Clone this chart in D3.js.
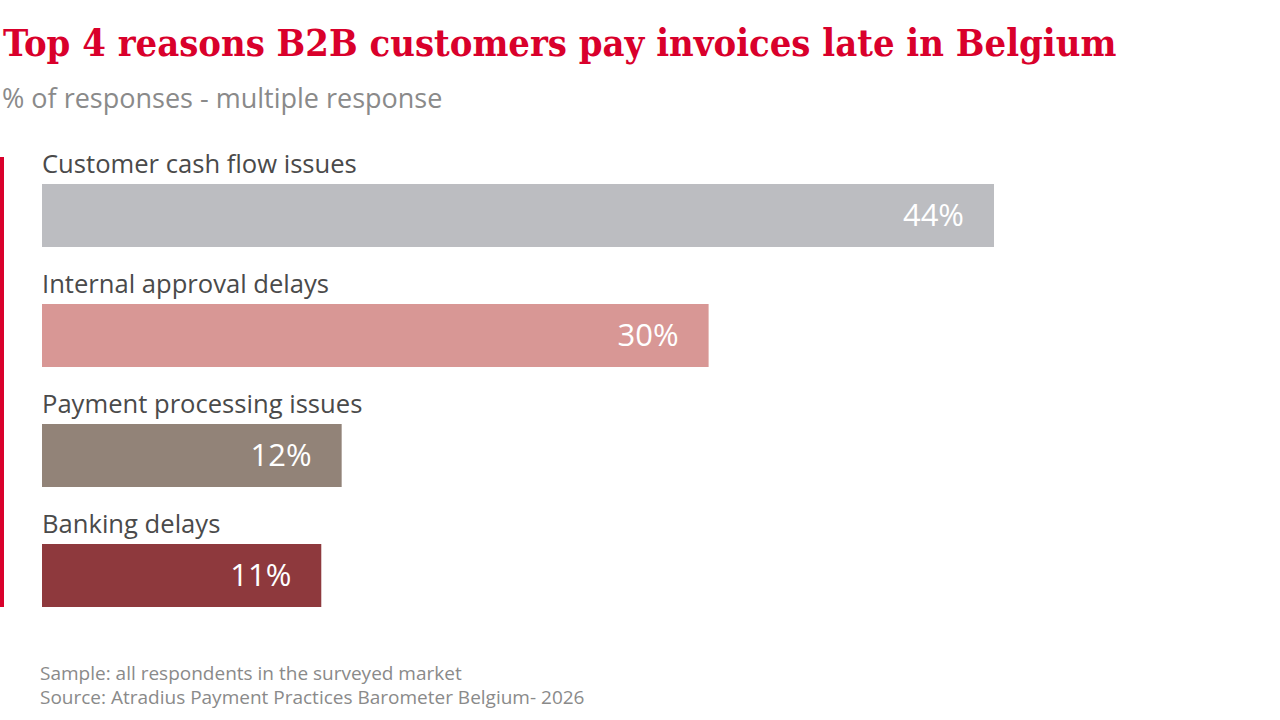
<!DOCTYPE html>
<html>
<head>
<meta charset="utf-8">
<script src="https://cdn.jsdelivr.net/npm/d3@7"></script>
<style>
  body { margin: 0; background: #fff; }
  svg { display: block; }
</style>
</head>
<body>
<div id="chart"></div>
<script>
// data
var reasons = ["Customer cash flow issues", "Internal approval delays", "Payment processing issues", "Banking delays"];
var shares = [44, 30, 12, 11];
var barColors = ["#bcbdc1", "#d89795", "#928378", "#8e393d"];

var width = 1280, height = 720;

var svg = d3.select("#chart")
    .append("svg")
    .attr("width", width)
    .attr("height", height);

// title + subtitle
var title = svg.append("text")
    .attr("x", 3)
    .attr("y", 56)
    .style("font-family", "'DejaVu Serif Condensed', 'DejaVu Serif', serif")
    .style("font-weight", "600")
    .style("font-size", "40px")
    .style("fill", "#d9002b")
    .text("Top 4 reasons B2B customers pay invoices late in Belgium");
// fit the title to the reference width
var tw = title.node().getComputedTextLength();
title.style("font-size", (40 * 1114 / tw) + "px");

svg.append("text")
    .attr("x", 2)
    .attr("y", 108)
    .style("font-family", "'Open Sans', sans-serif")
    .style("font-size", "27px")
    .style("fill", "#8a8a8a")
    .text("% of responses - multiple response");

// scales
var x = d3.scaleLinear()
    .domain([-2.7, 44])
    .range([42, 42 + 952]);

var y = d3.scaleBand()
    .domain(reasons)
    .range([157, 637])
    .paddingInner(0);

var rows = reasons.map((r, i) => ({ label: r, value: shares[i], color: barColors[i] }));

// red accent line
svg.append("rect")
    .attr("x", 0)
    .attr("y", y(reasons[0]))
    .attr("width", 4)
    .attr("height", y(reasons[reasons.length - 1]) + y.bandwidth() - 30 - y(reasons[0]))
    .style("fill", "#d9002b");

var row = svg.selectAll("g.row")
    .data(rows)
    .enter()
    .append("g")
    .attr("class", "row")
    .attr("transform", d => `translate(0, ${y(d.label)})`);

row.append("text")
    .attr("x", 42)
    .attr("y", 16)
    .style("font-family", "'Open Sans', sans-serif")
    .style("font-size", "25.6px")
    .style("fill", "#4a4a4a")
    .text(d => d.label);

row.append("rect")
    .attr("x", x(-2.7))
    .attr("y", 27)
    .attr("width", d => x(d.value) - x(-2.7))
    .attr("height", 63)
    .style("fill", d => d.color);

row.append("text")
    .attr("x", d => x(d.value) - 30)
    .attr("y", 69)
    .style("font-family", "'Open Sans', sans-serif")
    .style("font-size", "31px")
    .style("fill", "#fff")
    .style("text-anchor", "end")
    .text(d => d.value + "%");

// footnotes
svg.append("text")
    .attr("x", 40)
    .attr("y", 680)
    .style("font-family", "'Open Sans', sans-serif")
    .style("font-size", "19px")
    .style("fill", "#8a8a8a")
    .text("Sample: all respondents in the surveyed market");

svg.append("text")
    .attr("x", 40)
    .attr("y", 704)
    .style("font-family", "'Open Sans', sans-serif")
    .style("font-size", "19px")
    .style("fill", "#8a8a8a")
    .text("Source: Atradius Payment Practices Barometer Belgium- 2026");
</script>
</body>
</html>
